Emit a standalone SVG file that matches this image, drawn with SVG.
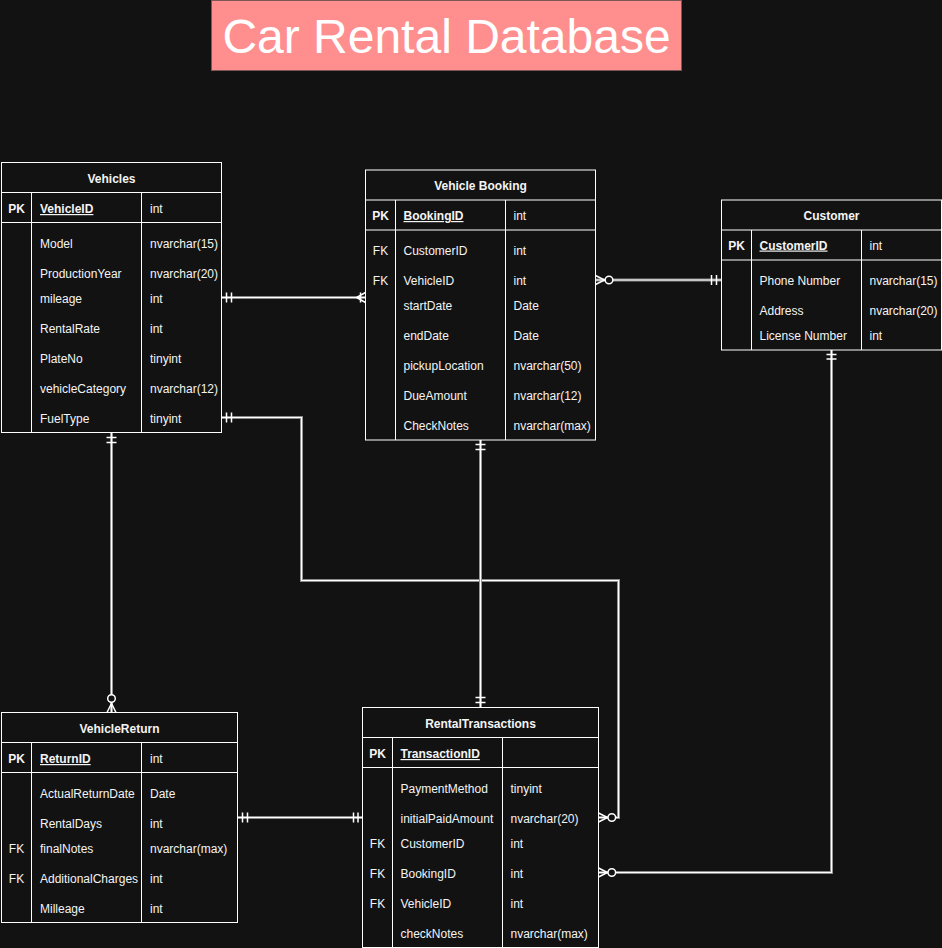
<svg xmlns="http://www.w3.org/2000/svg" xmlns:xlink="http://www.w3.org/1999/xlink" width="942" height="948" viewBox="0 0 942 948">
<style>
.tbl{fill:#121212;stroke:#ffffff;stroke-width:1}
.ln{stroke:#ffffff;stroke-width:1;fill:none}
.t{font-family:"Liberation Sans",Arial,Helvetica,sans-serif;font-size:12px;fill:#f4f4f4}
.h{font-weight:bold;text-anchor:middle}
.k{font-weight:bold;text-anchor:middle}
.fk{text-anchor:middle}
.pk{font-weight:bold;text-decoration:underline}
.eb{stroke:#8a8a8a;stroke-width:3;fill:none}
.ew{stroke:#ffffff;stroke-width:1.2;fill:none}
.mk{stroke:#ffffff;stroke-width:1.5;fill:none}
.ci{stroke:#ffffff;stroke-width:1.5;fill:#121212}
</style>
<rect width="942" height="948" fill="#121212"/>

<g id="title">
<rect x="211.5" y="0.5" width="470" height="70" fill="#ff8f8f" stroke="#7a5656"/>
<text x="446.5" y="53" font-family="'Liberation Sans',Arial,Helvetica,sans-serif" font-size="48" fill="#ffffff" text-anchor="middle">Car Rental Database</text>
</g>

<g id="connectors">
<defs>
<path id="c1" d="M221.5,297.5 H365.5"/>
<path id="c2" d="M595.5,280 H721.5"/>
<path id="c3" d="M221.5,417.5 H301.5 V580.5 H618.5 V817.5 H598.5"/>
<path id="c4" d="M111.5,432.5 V712.5"/>
<path id="c5" d="M480.5,440 V707.5"/>
<path id="c6" d="M831.5,350 V872.5 H598.5"/>
<path id="c7" d="M237.5,817.5 H362.5"/>
</defs>
<use xlink:href="#c1" class="eb"/><use xlink:href="#c1" class="ew"/>
<use xlink:href="#c2" class="eb"/><use xlink:href="#c2" class="ew"/>
<use xlink:href="#c3" class="eb"/><use xlink:href="#c3" class="ew"/>
<use xlink:href="#c4" class="eb"/><use xlink:href="#c4" class="ew"/>
<use xlink:href="#c5" class="eb"/><use xlink:href="#c5" class="ew"/>
<use xlink:href="#c6" class="eb"/><use xlink:href="#c6" class="ew"/>
<use xlink:href="#c7" class="eb"/><use xlink:href="#c7" class="ew"/>
<path class="mk" d="M226.5,292.5 V302.5 M231.5,292.5 V302.5"/>
<path class="mk" d="M365.5,292.5 L356.5,297.5 L365.5,302.5 M360.5,292.5 V302.5"/>
<path class="mk" d="M595.5,275.5 L604.5,280 L595.5,284.5"/>
<circle class="ci" cx="609" cy="280" r="3.8"/>
<path class="mk" d="M711.5,275 V285 M716.5,275 V285"/>
<path class="mk" d="M226.5,412.5 V422.5 M231.5,412.5 V422.5"/>
<path class="mk" d="M598.5,813 L607.5,817.5 L598.5,822"/>
<circle class="ci" cx="611.8" cy="817.5" r="3.8"/>
<path class="mk" d="M106.5,437.5 H116.5 M106.5,442.5 H116.5"/>
<path class="mk" d="M107,712.5 L111.5,703.5 L116,712.5"/>
<circle class="ci" cx="111.5" cy="698.5" r="3.8"/>
<path class="mk" d="M475.5,444.5 H485.5 M475.5,449.5 H485.5"/>
<path class="mk" d="M475.5,697.5 H485.5 M475.5,702.5 H485.5"/>
<path class="mk" d="M826.5,354.5 H836.5 M826.5,359 H836.5"/>
<path class="mk" d="M598.5,868 L607.5,872.5 L598.5,877"/>
<circle class="ci" cx="611.8" cy="872.5" r="3.8"/>
<path class="mk" d="M242.5,812.5 V822.5 M247.5,812.5 V822.5"/>
<path class="mk" d="M353.5,812.5 V822.5 M358,812.5 V822.5"/>
</g>

<g id="vehicles">
<rect class="tbl" x="1.5" y="162.5" width="220" height="270"/>
<path class="ln" d="M1.5,192.5 H221.5 M1.5,222.5 H221.5 M31.5,192.5 V432.5 M141.5,192.5 V432.5"/>
<text class="t h" x="111.5" y="183">Vehicles</text>
<text class="t k" x="16.5" y="213">PK</text>
<text class="t pk" x="40" y="213">VehicleID</text>
<text class="t" x="150" y="213">int</text>
<text class="t" x="40" y="247.5">Model</text><text class="t" x="150" y="247.5">nvarchar(15)</text>
<text class="t" x="40" y="277.5">ProductionYear</text><text class="t" x="150" y="277.5">nvarchar(20)</text>
<text class="t" x="40" y="302.5">mileage</text><text class="t" x="150" y="302.5">int</text>
<text class="t" x="40" y="332.5">RentalRate</text><text class="t" x="150" y="332.5">int</text>
<text class="t" x="40" y="362.5">PlateNo</text><text class="t" x="150" y="362.5">tinyint</text>
<text class="t" x="40" y="392.5">vehicleCategory</text><text class="t" x="150" y="392.5">nvarchar(12)</text>
<text class="t" x="40" y="422.5">FuelType</text><text class="t" x="150" y="422.5">tinyint</text>
</g>

<g id="vehicle-booking">
<rect class="tbl" x="365.5" y="170" width="230" height="270"/>
<path class="ln" d="M365.5,200 H595.5 M365.5,230 H595.5 M395.5,200 V440 M505.5,200 V440"/>
<text class="t h" x="480.5" y="190">Vehicle Booking</text>
<text class="t k" x="380.5" y="220">PK</text>
<text class="t pk" x="403.5" y="220">BookingID</text>
<text class="t" x="513.5" y="220">int</text>
<text class="t fk" x="380.5" y="255">FK</text><text class="t" x="403.5" y="255">CustomerID</text><text class="t" x="513.5" y="255">int</text>
<text class="t fk" x="380.5" y="285">FK</text><text class="t" x="403.5" y="285">VehicleID</text><text class="t" x="513.5" y="285">int</text>
<text class="t" x="403.5" y="310">startDate</text><text class="t" x="513.5" y="310">Date</text>
<text class="t" x="403.5" y="340">endDate</text><text class="t" x="513.5" y="340">Date</text>
<text class="t" x="403.5" y="370">pickupLocation</text><text class="t" x="513.5" y="370">nvarchar(50)</text>
<text class="t" x="403.5" y="400">DueAmount</text><text class="t" x="513.5" y="400">nvarchar(12)</text>
<text class="t" x="403.5" y="429.5">CheckNotes</text><text class="t" x="513.5" y="429.5">nvarchar(max)</text>
</g>

<g id="customer">
<rect class="tbl" x="721.5" y="200" width="220" height="150"/>
<path class="ln" d="M721.5,230 H941.5 M721.5,260 H941.5 M751.5,230 V350 M861.5,230 V350"/>
<text class="t h" x="831.5" y="220">Customer</text>
<text class="t k" x="736.5" y="249.5">PK</text>
<text class="t pk" x="759.5" y="249.5">CustomerID</text>
<text class="t" x="869.5" y="249.5">int</text>
<text class="t" x="759.5" y="285">Phone Number</text><text class="t" x="869.5" y="285">nvarchar(15)</text>
<text class="t" x="759.5" y="315">Address</text><text class="t" x="869.5" y="315">nvarchar(20)</text>
<text class="t" x="759.5" y="340">License Number</text><text class="t" x="869.5" y="340">int</text>
</g>

<g id="vehicle-return">
<rect class="tbl" x="1.5" y="712.5" width="236" height="210"/>
<path class="ln" d="M1.5,742.5 H237.5 M1.5,772.5 H237.5 M31.5,742.5 V922.5 M141.5,742.5 V922.5"/>
<text class="t h" x="119.5" y="733">VehicleReturn</text>
<text class="t k" x="16.5" y="763">PK</text>
<text class="t pk" x="40" y="763">ReturnID</text>
<text class="t" x="150" y="763">int</text>
<text class="t" x="40" y="798">ActualReturnDate</text><text class="t" x="150" y="798">Date</text>
<text class="t" x="40" y="828">RentalDays</text><text class="t" x="150" y="828">int</text>
<text class="t fk" x="16.5" y="853">FK</text><text class="t" x="40" y="853">finalNotes</text><text class="t" x="150" y="853">nvarchar(max)</text>
<text class="t fk" x="16.5" y="883">FK</text><text class="t" x="40" y="883">AdditionalCharges</text><text class="t" x="150" y="883">int</text>
<text class="t" x="40" y="913">Milleage</text><text class="t" x="150" y="913">int</text>
</g>

<g id="rental-transactions">
<rect class="tbl" x="362.5" y="707.5" width="236" height="240"/>
<path class="ln" d="M362.5,737.5 H598.5 M362.5,767.5 H598.5 M392.5,737.5 V947.5 M502.5,737.5 V947.5"/>
<text class="t h" x="480.5" y="728">RentalTransactions</text>
<text class="t k" x="377.5" y="758">PK</text>
<text class="t pk" x="400.5" y="758">TransactionID</text>
<text class="t" x="400.5" y="793">PaymentMethod</text><text class="t" x="510.5" y="793">tinyint</text>
<text class="t" x="400.5" y="823">initialPaidAmount</text><text class="t" x="510.5" y="823">nvarchar(20)</text>
<text class="t fk" x="377.5" y="848">FK</text><text class="t" x="400.5" y="848">CustomerID</text><text class="t" x="510.5" y="848">int</text>
<text class="t fk" x="377.5" y="878">FK</text><text class="t" x="400.5" y="878">BookingID</text><text class="t" x="510.5" y="878">int</text>
<text class="t fk" x="377.5" y="908">FK</text><text class="t" x="400.5" y="908">VehicleID</text><text class="t" x="510.5" y="908">int</text>
<text class="t" x="400.5" y="938">checkNotes</text><text class="t" x="510.5" y="938">nvarchar(max)</text>
</g>
</svg>
